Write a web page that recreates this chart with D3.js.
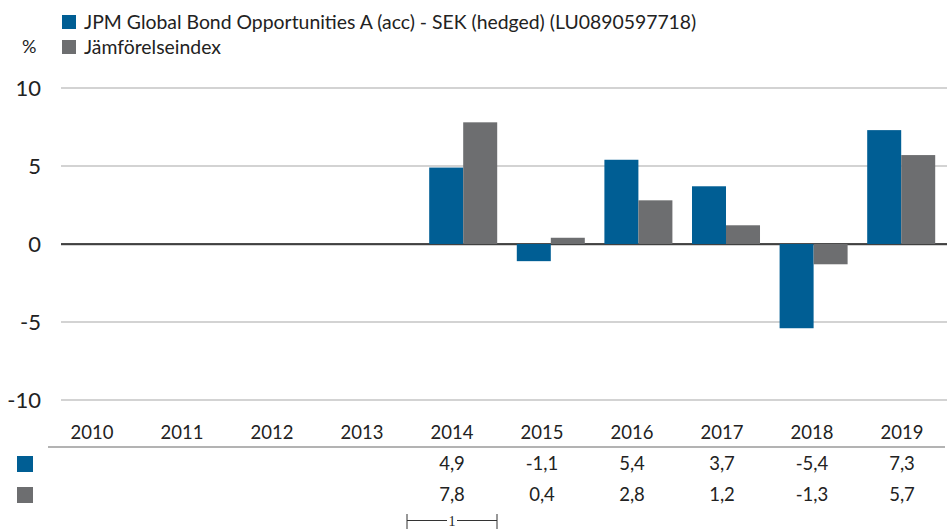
<!DOCTYPE html>
<html>
<head>
<meta charset="utf-8">
<script src="https://cdn.jsdelivr.net/npm/d3@7"></script>
<style>
  html, body { margin: 0; padding: 0; background: #fff; }
  svg { display: block; font-family: Lato, "Open Sans", sans-serif; }
</style>
</head>
<body>
<svg id="chart" width="947" height="529"></svg>
<script>
const years = ["2010","2011","2012","2013","2014","2015","2016","2017","2018","2019"];
const fundValues = [null,null,null,null,4.9,-1.1,5.4,3.7,-5.4,7.3];
const indexValues = [null,null,null,null,7.8,0.4,2.8,1.2,-1.3,5.7];
const fundLabels = ["","","","","4,9","-1,1","5,4","3,7","-5,4","7,3"];
const indexLabels = ["","","","","7,8","0,4","2,8","1,2","-1,3","5,7"];
const yTicks = [-10,-5,0,5,10];
const seriesNames = ["JPM Global Bond Opportunities A (acc) - SEK (hedged) (LU0890597718)", "Jämförelseindex"];
const colors = ["#005e94", "#6d6e70"];

const svg = d3.select("#chart");

const x = d3.scaleBand().domain(years).range([69, 945]).paddingInner(0.2237).paddingOuter(0.11185);
const xSub = d3.scaleBand().domain([0,1]).range([0, x.bandwidth()]);
const y = d3.scaleLinear().domain([-10, 10]).range([400, 88]);
const xTable = d3.scaleBand().domain(years).range([47, 947]);

// gridlines
svg.append("g").selectAll("line").data(yTicks.filter(d => d !== 0)).join("line")
  .attr("x1", 61).attr("x2", 947)
  .attr("y1", d => y(d)).attr("y2", d => y(d))
  .attr("stroke", "#c4c4c4").attr("stroke-width", 1.3);
svg.append("line").attr("x1", 61).attr("x2", 947)
  .attr("y1", y(0) + 1).attr("y2", y(0) + 1)
  .attr("stroke", "#c4c4c4").attr("stroke-width", 1.3);
svg.append("line").attr("x1", 61).attr("x2", 947)
  .attr("y1", y(0)).attr("y2", y(0))
  .attr("stroke", "#111").attr("stroke-width", 1.3);

// y labels
svg.append("g").selectAll("text").data(yTicks).join("text")
  .attr("x", 41).attr("y", d => y(d)).attr("dy", "0.36em")
  .attr("text-anchor", "end").attr("font-size", 22).attr("fill", "#222")
  .text(d => d);

// bars
const seriesData = [fundValues, indexValues];
seriesData.forEach((vals, si) => {
  svg.append("g").selectAll("rect")
    .data(years.map((yr, i) => ({yr, v: vals[i]})).filter(d => d.v !== null))
    .join("rect")
    .attr("x", d => x(d.yr) + xSub(si))
    .attr("width", xSub.bandwidth())
    .attr("y", d => y(Math.max(0, d.v)))
    .attr("height", d => Math.abs(y(d.v) - y(0)))
    .attr("fill", colors[si]);
});

// legend
seriesNames.forEach((name, i) => {
  svg.append("rect").attr("x", 62).attr("y", 15 + i * 25).attr("width", 14).attr("height", 14).attr("fill", colors[i]);
  svg.append("text").attr("x", 84).attr("y", 22 + i * 25).attr("dy", "0.35em")
    .attr("font-size", 19.4).attr("fill", "#222").text(name);
});
svg.append("text").attr("x", 22).attr("y", 47).attr("dy", "0.35em")
  .attr("font-size", 18).attr("fill", "#222").text("%");

// table
svg.append("g").selectAll("text").data(years).join("text")
  .attr("x", d => xTable(d) + xTable.bandwidth() / 2).attr("y", 433).attr("dy", "0.35em")
  .attr("text-anchor", "middle").attr("font-size", 18.5).attr("fill", "#222").text(d => d);
svg.append("line").attr("x1", 48).attr("x2", 945).attr("y1", 447).attr("y2", 447)
  .attr("stroke", "#9a9a9a").attr("stroke-width", 1.3);

[fundLabels, indexLabels].forEach((labels, si) => {
  const cy = 464 + si * 31;
  svg.append("rect").attr("x", 17).attr("y", cy - 8).attr("width", 16).attr("height", 16).attr("fill", colors[si]);
  svg.append("g").selectAll("text").data(years.map((yr, i) => ({yr, t: labels[i]}))).join("text")
    .attr("x", d => xTable(d.yr) + xTable.bandwidth() / 2).attr("y", cy).attr("dy", "0.35em")
    .attr("text-anchor", "middle").attr("font-size", 18.5).attr("fill", "#222").text(d => d.t);
});

// bracket footnote under 2014
const bx0 = xTable("2014"), bx1 = xTable("2014") + xTable.bandwidth();
const bg = svg.append("g").attr("stroke", "#333").attr("stroke-width", 1);
bg.append("line").attr("x1", bx0).attr("x2", bx0).attr("y1", 514).attr("y2", 529);
bg.append("line").attr("x1", bx1).attr("x2", bx1).attr("y1", 514).attr("y2", 529);
bg.append("line").attr("x1", bx0).attr("x2", (bx0 + bx1) / 2 - 5).attr("y1", 520.5).attr("y2", 520.5);
bg.append("line").attr("x1", (bx0 + bx1) / 2 + 5).attr("x2", bx1).attr("y1", 520.5).attr("y2", 520.5);
svg.append("text").attr("x", (bx0 + bx1) / 2).attr("y", 521).attr("dy", "0.35em")
  .attr("text-anchor", "middle").attr("font-size", 14).attr("font-family", "Liberation Serif, serif")
  .attr("fill", "#222").text("1");
</script>
</body>
</html>
